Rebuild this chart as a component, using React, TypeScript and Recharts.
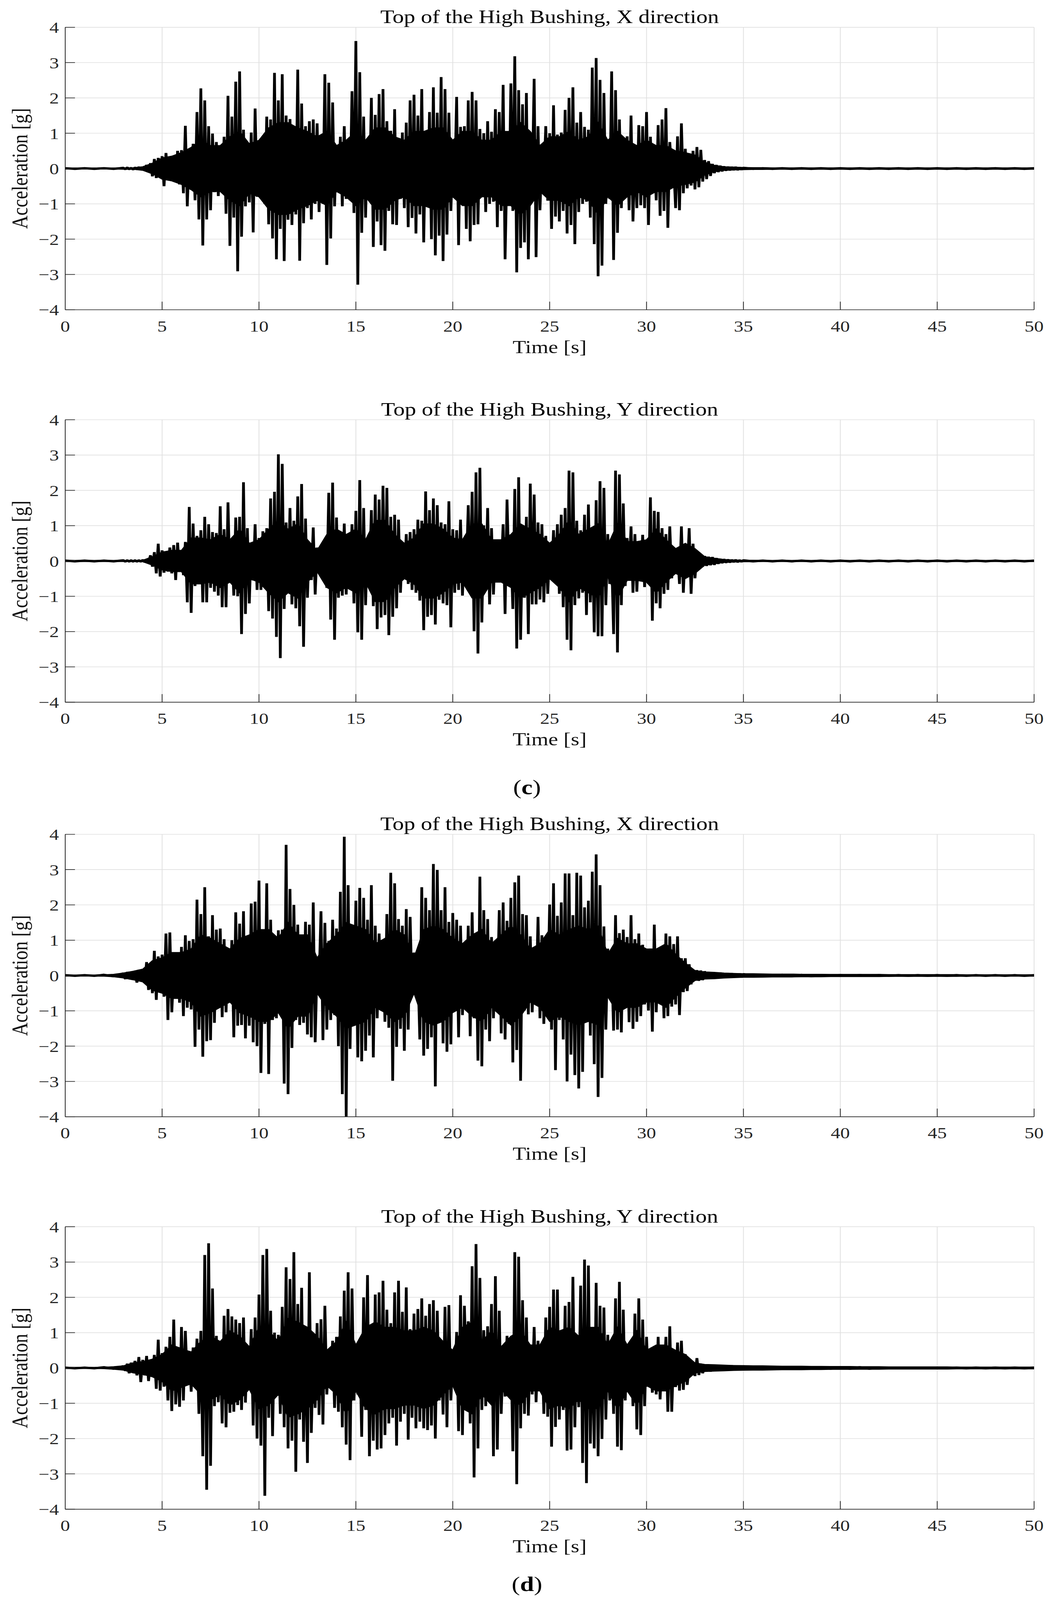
import React, { useEffect, useState } from 'react';
import { ComposedChart, Line, Area, XAxis, YAxis, CartesianGrid } from 'recharts';

// ---------- axes / labels ----------
const X_TICKS = [0, 5, 10, 15, 20, 25, 30, 35, 40, 45, 50];
const Y_TICKS = [-4, -3, -2, -1, 0, 1, 2, 3, 4];
const TITLES = [
  'Top of the High Bushing, X direction',
  'Top of the High Bushing, Y direction',
  'Top of the High Bushing, X direction',
  'Top of the High Bushing, Y direction',
];
const X_LABEL = 'Time [s]';
const Y_LABEL = 'Acceleration [g]';
const PANEL_LETTERS = ['c', 'd'];

// ---------- data (acceleration in g) ----------
// quiet lead-in: t = 0, 0.5, ... 2.5 s
const P1_LEAD = [0.01, -0.01, 0.01, -0.01, 0.01, -0.01];
const P2_LEAD = [0.01, -0.01, 0.01, -0.01, 0.01, -0.01];
const P3_LEAD = [0.01, -0.01, 0.01, -0.01, 0.02, -0.02];
const P4_LEAD = [0.01, -0.01, 0.01, -0.01, 0.02, -0.02];

// strong-motion peaks: one row per second (3 s .. 34 s), samples every 0.1 s
const P1_ROWS = [
  [0.02, -0.02, 0.03, -0.02, 0.02, -0.03, 0.03, -0.02, 0.04, -0.03],
  [0.04, -0.04, 0.1, -0.1, 0.15, -0.22, 0.27, -0.27, 0.3, -0.25],
  [0.35, -0.5, 0.44, -0.28, 0.25, -0.35, 0.33, -0.36, 0.5, -0.45],
  [0.52, -0.7, 1.21, -1.07, 0.53, -0.6, 0.7, -0.9, 1.6, -1.44],
  [2.27, -2.18, 1.93, -1.44, 1.2, -1.18, 0.99, -0.67, 0.75, -0.78],
  [0.6, -0.67, 0.9, -1.28, 2.06, -2.19, 1.47, -1.39, 2.46, -2.91],
  [2.75, -1.93, 1.1, -1.07, 0.7, -0.96, 1.02, -1.81, 1.7, -0.8],
  [0.8, -0.78, 0.9, -1.0, 1.47, -1.58, 1.39, -1.98, 2.71, -2.57],
  [1.93, -1.71, 2.67, -2.62, 1.5, -1.45, 1.4, -1.6, 1.07, -1.3],
  [2.8, -2.61, 1.84, -1.55, 1.2, -1.12, 1.34, -1.44, 1.39, -1.0],
  [1.28, -1.23, 0.91, -1.0, 2.67, -2.73, 2.43, -1.98, 1.87, -1.07],
  [0.59, -0.61, 0.9, -1.07, 1.2, -0.86, 0.78, -0.9, 2.19, -1.26],
  [3.61, -3.29, 2.73, -1.82, 1.47, -1.39, 0.86, -0.8, 2.0, -2.22],
  [1.52, -1.5, 2.11, -2.17, 2.25, -2.33, 1.34, -1.2, 1.07, -1.58],
  [1.68, -1.6, 0.86, -0.86, 1.02, -1.12, 1.3, -1.66, 1.93, -1.4],
  [2.09, -1.84, 1.5, -1.3, 2.25, -2.09, 1.0, -1.04, 1.6, -2.0],
  [2.3, -2.46, 1.58, -1.9, 2.59, -2.62, 2.25, -1.87, 1.58, -1.2],
  [0.48, -0.5, 2.03, -2.17, 1.18, -0.86, 1.2, -1.71, 1.93, -2.06],
  [2.17, -1.6, 1.93, -1.58, 1.12, -0.8, 1.0, -1.23, 1.34, -1.0],
  [1.04, -0.94, 1.68, -1.66, 1.6, -1.2, 2.37, -2.57, 0.2, -1.02],
  [2.41, -1.2, 3.18, -2.94, 2.22, -2.25, 1.82, -2.09, 2.14, -2.57],
  [0.59, -0.48, 2.54, -2.51, 1.2, -1.18, 0.4, -0.3, 1.2, -0.91],
  [1.0, -1.71, 1.79, -1.36, 0.96, -1.5, 1.02, -1.2, 1.66, -1.84],
  [2.0, -1.6, 2.3, -2.14, 1.3, -1.23, 1.6, -1.0, 1.18, -0.94],
  [1.1, -1.39, 2.86, -2.14, 3.13, -3.05, 2.51, -2.75, 2.14, -1.0],
  [0.8, -0.86, 2.75, -2.59, 2.22, -1.82, 1.39, -1.12, 0.53, -0.8],
  [0.91, -1.18, 1.5, -1.5, 0.43, -1.12, 1.23, -1.04, 1.2, -1.12],
  [1.6, -1.6, 0.9, -0.53, 0.45, -0.9, 1.23, -1.34, 1.39, -1.2],
  [1.71, -1.68, 0.75, -0.13, 0.08, -1.12, 0.91, -1.18, 1.28, -0.7],
  [0.56, -0.56, 0.43, -0.48, 0.5, -0.59, 0.61, -0.53, 0.53, -0.37],
  [0.24, -0.3, 0.21, -0.21, 0.13, -0.13, 0.1, -0.1, 0.08, -0.08],
  [0.06, -0.06, 0.05, -0.05, 0.04, -0.04, 0.04, -0.04, 0.03, -0.03],
];
const P2_ROWS = [
  [0.02, -0.02, 0.02, -0.02, 0.02, -0.02, 0.02, -0.02, 0.02, -0.02],
  [0.03, -0.03, 0.04, -0.04, 0.16, -0.16, 0.25, -0.35, 0.49, -0.44],
  [0.3, -0.33, 0.27, -0.3, 0.38, -0.35, 0.45, -0.54, 0.52, -0.3],
  [0.22, -0.4, 0.54, -1.17, 1.53, -1.47, 1.06, -0.71, 0.71, -0.6],
  [0.87, -1.17, 1.25, -1.17, 1.04, -0.76, 0.82, -0.87, 0.79, -0.98],
  [1.55, -1.31, 0.9, -1.31, 1.66, -0.6, 0.33, -0.98, 1.23, -1.0],
  [1.25, -2.07, 2.23, -1.5, 0.93, -1.2, 0.49, -0.55, 1.04, -0.82],
  [0.65, -0.82, 0.84, -0.6, 0.93, -1.42, 1.77, -1.63, 1.96, -2.15],
  [3.02, -2.75, 2.75, -1.36, 1.09, -0.87, 1.5, -1.23, 1.14, -1.34],
  [1.83, -1.85, 2.18, -2.43, 1.2, -1.04, 0.49, -0.54, 0.95, -0.95],
  [0.38, -0.33, 0.27, -0.27, 0.5, -0.76, 1.93, -1.66, 2.22, -2.23],
  [1.23, -1.04, 0.79, -0.98, 1.06, -0.95, 0.6, -0.71, 1.04, -1.2],
  [1.42, -2.02, 2.29, -2.23, 1.5, -1.25, 0.65, -0.49, 1.44, -1.28],
  [1.88, -1.93, 1.74, -1.6, 2.13, -1.53, 2.07, -2.1, 1.25, -1.58],
  [1.31, -1.34, 1.17, -0.9, 0.38, -0.49, 0.76, -0.65, 0.82, -0.82],
  [0.9, -0.9, 1.17, -1.12, 1.14, -1.96, 1.97, -1.58, 1.44, -1.53],
  [1.77, -1.8, 1.58, -1.1, 1.09, -1.2, 1.04, -1.25, 1.69, -1.88],
  [0.9, -0.9, 0.87, -0.82, 1.17, -0.98, 0.38, -0.27, 1.58, -0.9],
  [1.96, -1.99, 2.51, -2.62, 2.64, -1.74, 1.01, -0.76, 1.5, -1.23],
  [0.93, -0.95, 0.44, -0.6, 0.6, -0.27, 1.04, -1.5, 1.74, -0.33],
  [0.44, -1.36, 2.04, -2.48, 2.37, -2.23, 0.6, -1.04, 1.25, -2.07],
  [2.19, -1.23, 1.88, -1.23, 1.09, -1.09, 1.04, -1.17, 0.71, -0.93],
  [0.38, -0.46, 0.87, -0.6, 1.04, -0.93, 1.31, -1.31, 1.5, -2.23],
  [2.56, -2.53, 2.51, -1.25, 1.14, -1.06, 0.87, -0.9, 1.31, -1.53],
  [1.6, -1.17, 0.87, -2.02, 1.72, -2.13, 2.26, -2.13, 2.07, -1.25],
  [0.76, -0.65, 0.11, -2.07, 2.56, -2.59, 2.45, -1.25, 1.63, -0.71],
  [0.65, -0.33, 0.98, -0.9, 0.76, -0.87, 0.44, -0.49, 0.74, -0.74],
  [0.44, -0.65, 1.8, -1.69, 1.42, -1.2, 1.39, -1.34, 0.93, -0.93],
  [0.76, -0.82, 0.98, -0.49, 0.27, -0.27, 0.27, -0.65, 0.98, -0.9],
  [0.38, -0.44, 0.93, -0.93, 0.49, -0.49, 0.22, -0.19, 0.16, -0.16],
  [0.14, -0.14, 0.12, -0.12, 0.11, -0.11, 0.08, -0.08, 0.06, -0.06],
  [0.05, -0.05, 0.04, -0.04, 0.03, -0.03, 0.03, -0.03, 0.02, -0.02],
];
const P3_ROWS = [
  [0.06, -0.1, 0.1, -0.08, 0.08, -0.12, 0.12, -0.2, 0.16, -0.15],
  [0.15, -0.2, 0.38, -0.41, 0.3, -0.5, 0.7, -0.69, 0.54, -0.4],
  [0.59, -0.6, 1.19, -1.26, 1.22, -1.04, 0.2, -0.22, 0.59, -0.77],
  [0.81, -1.15, 1.14, -0.91, 0.98, -0.96, 1.03, -2.02, 2.15, -1.53],
  [1.74, -2.3, 2.5, -1.86, 1.11, -1.83, 1.71, -1.34, 1.3, -0.88],
  [1.33, -1.18, 1.03, -1.04, 0.7, -0.55, 1.0, -1.75, 1.79, -1.42],
  [1.47, -1.4, 1.82, -1.78, 1.03, -1.42, 2.04, -1.89, 2.09, -2.0],
  [2.69, -2.76, 1.03, -1.37, 2.61, -2.79, 1.58, -1.26, 1.03, -1.21],
  [1.28, -1.07, 1.3, -3.06, 3.7, -3.36, 2.45, -2.05, 2.0, -1.26],
  [1.44, -1.4, 0.98, -1.34, 1.52, -1.67, 1.44, -1.75, 2.07, -1.89],
  [0.38, -0.2, 1.82, -1.83, 1.49, -1.53, 0.98, -1.26, 1.58, -1.12],
  [1.33, -2.0, 2.37, -3.36, 3.93, -3.99, 2.56, -2.08, 1.39, -1.37],
  [2.12, -2.32, 2.48, -2.43, 2.2, -2.13, 1.58, -1.7, 2.56, -2.32],
  [1.41, -1.21, 1.19, -0.66, 0.79, -1.31, 1.74, -1.48, 2.91, -2.98],
  [2.61, -2.02, 1.6, -1.51, 1.41, -2.13, 1.88, -1.53, 1.66, -0.55],
  [0.65, -0.6, 0.21, -1.81, 2.5, -2.27, 2.2, -2.08, 1.85, -1.75],
  [3.16, -3.14, 2.99, -1.21, 1.85, -1.92, 2.5, -2.16, 1.52, -1.95],
  [1.77, -0.66, 1.58, -1.75, 1.41, -1.12, 0.65, -0.6, 1.41, -1.72],
  [1.79, -1.21, 1.09, -2.41, 2.8, -2.57, 1.85, -1.53, 1.6, -1.86],
  [1.09, -1.21, 0.7, -0.5, 1.85, -1.64, 2.07, -1.81, 1.55, -1.37],
  [2.2, -2.46, 2.64, -2.11, 2.83, -2.98, 1.74, -0.99, 1.71, -1.1],
  [1.11, -1.04, 0.65, -0.8, 1.66, -1.21, 1.14, -1.37, 0.65, -0.66],
  [2.01, -1.53, 2.61, -2.68, 1.69, -1.26, 2.07, -1.81, 2.89, -3.0],
  [2.89, -2.24, 1.71, -2.82, 2.91, -3.2, 2.83, -2.73, 1.93, -0.93],
  [2.12, -1.7, 2.94, -2.51, 3.43, -3.44, 2.56, -2.9, 1.39, -1.53],
  [0.76, -0.49, 0.43, -1.56, 1.71, -1.53, 1.2, -1.61, 1.3, -0.66],
  [1.09, -1.32, 1.71, -1.51, 1.03, -1.31, 1.19, -1.15, 0.87, -0.82],
  [0.54, -0.99, 0.76, -1.59, 1.44, -1.04, 0.43, -0.66, 0.76, -1.21],
  [1.19, -1.15, 1.11, -0.88, 0.89, -0.82, 1.11, -1.12, 0.49, -0.47],
  [0.49, -0.44, 0.32, -0.25, 0.16, -0.14, 0.15, -0.15, 0.14, -0.13],
  [0.12, -0.1, 0.1, -0.1, 0.09, -0.08, 0.08, -0.08, 0.08, -0.07],
  [0.07, -0.06, 0.06, -0.06, 0.06, -0.05, 0.05, -0.05, 0.05, -0.05],
];
const P4_ROWS = [
  [0.05, -0.08, 0.12, -0.15, 0.15, -0.1, 0.2, -0.21, 0.31, -0.4],
  [0.23, -0.21, 0.34, -0.37, 0.15, -0.15, 0.37, -0.59, 0.8, -0.64],
  [0.42, -0.53, 0.6, -0.92, 0.88, -1.22, 1.37, -1.03, 0.26, -1.1],
  [1.16, -0.92, 1.05, -0.37, 0.48, -0.67, 0.58, -0.53, 0.83, -1.3],
  [1.05, -2.5, 3.2, -3.45, 3.53, -2.77, 2.25, -1.08, 0.91, -0.97],
  [0.67, -1.57, 1.48, -1.68, 1.67, -1.27, 1.46, -1.24, 1.37, -1.05],
  [1.27, -1.19, 1.43, -0.98, 0.61, -0.53, 1.1, -1.63, 1.43, -2.0],
  [2.08, -2.2, 3.2, -3.62, 3.37, -1.41, 1.62, -1.93, 1.0, -0.75],
  [0.94, -1.3, 1.73, -1.68, 2.85, -2.28, 2.52, -2.06, 3.28, -2.94],
  [1.81, -1.46, 2.27, -2.09, 1.18, -2.69, 2.71, -1.84, 0.39, -1.13],
  [1.27, -1.33, 1.38, -1.6, 1.76, -0.75, 0.34, -0.31, 0.77, -1.13],
  [0.88, -1.24, 1.46, -1.68, 2.19, -2.17, 2.71, -2.61, 2.25, -0.92],
  [0.67, -0.75, 0.77, -1.95, 2.0, -1.19, 2.63, -2.5, 1.1, -2.06],
  [2.08, -2.31, 2.14, -2.28, 2.47, -1.9, 1.65, -1.57, 1.27, -1.41],
  [2.14, -2.2, 2.47, -1.52, 1.59, -1.3, 2.28, -2.03, 1.1, -1.41],
  [1.54, -1.71, 1.67, -1.52, 1.97, -1.71, 1.48, -1.76, 1.81, -1.63],
  [1.92, -2.0, 1.62, -0.92, 0.77, -1.32, 1.73, -1.68, 1.78, -0.92],
  [0.39, -0.48, 1.02, -1.79, 2.06, -1.9, 1.76, -0.2, 1.32, -1.57],
  [2.88, -3.1, 3.51, -2.28, 2.55, -1.19, 1.07, -1.08, 1.18, -0.86],
  [1.81, -2.5, 2.6, -2.31, 1.62, -1.3, 0.39, -0.81, 0.91, -0.48],
  [0.77, -2.36, 3.28, -3.29, 3.15, -1.71, 1.92, -1.3, 1.43, -1.35],
  [0.56, -0.75, 1.16, -0.97, 0.77, -0.54, 0.66, -1.3, 1.43, -1.38],
  [1.73, -2.23, 2.22, -1.67, 2.22, -1.46, 0.96, -1.19, 1.76, -2.34],
  [1.87, -2.31, 2.58, -1.68, 0.88, -1.11, 2.33, -2.69, 3.07, -3.26],
  [2.9, -2.14, 0.99, -2.28, 2.41, -2.5, 1.76, -2.01, 1.71, -1.46],
  [0.94, -0.92, 0.66, -1.3, 1.97, -2.23, 2.44, -2.33, 1.65, -0.92],
  [0.58, -0.54, 0.77, -1.08, 1.54, -1.74, 1.97, -1.9, 1.37, -1.08],
  [0.88, -0.43, 0.34, -0.7, 0.56, -0.75, 0.88, -0.89, 0.39, -0.54],
  [0.88, -1.24, 1.18, -1.24, 0.39, -0.54, 0.72, -0.64, 0.77, -0.62],
  [0.39, -0.48, 0.09, -0.15, 0.17, -0.23, 0.28, -0.2, 0.12, -0.15],
  [0.1, -0.1, 0.09, -0.1, 0.09, -0.08, 0.08, -0.08, 0.08, -0.07],
  [0.07, -0.07, 0.07, -0.06, 0.07, -0.06, 0.06, -0.06, 0.06, -0.06],
];
const P_LAST = [0.02, 0.02, 0.04, 0.05]; // value at t = 35 s

// free-vibration tail: t = 35.5, 36 ... 50 s
const P1_TAIL = [-0.01, 0.01, -0.01, 0.01, -0.01, 0.01, -0.01, 0.01, -0.01, 0.01, -0.01, 0.01, -0.01, 0.01, -0.01, 0.01, -0.01, 0.01, -0.01, 0.01, -0.01, 0.01, -0.01, 0.01, -0.01, 0.01, -0.01, 0.01, -0.01, 0.01];
const P2_TAIL = [-0.01, 0.01, -0.01, 0.01, -0.01, 0.01, -0.01, 0.01, -0.01, 0.01, -0.01, 0.01, -0.01, 0.01, -0.01, 0.01, -0.01, 0.01, -0.01, 0.01, -0.01, 0.01, -0.01, 0.01, -0.01, 0.01, -0.01, 0.01, -0.01, 0.01];
const P3_TAIL = [-0.02, 0.02, -0.02, 0.02, -0.02, 0.02, -0.02, 0.01, -0.01, 0.01, -0.01, 0.01, -0.01, 0.01, -0.01, 0.01, -0.01, 0.01, -0.01, 0.01, -0.01, 0.01, -0.01, 0.01, -0.01, 0.01, -0.01, 0.01, -0.01, 0.01];
const P4_TAIL = [-0.03, 0.03, -0.03, 0.02, -0.02, 0.02, -0.02, 0.02, -0.02, 0.02, -0.02, 0.02, -0.02, 0.01, -0.01, 0.01, -0.01, 0.01, -0.01, 0.01, -0.01, 0.01, -0.01, 0.01, -0.01, 0.01, -0.01, 0.01, -0.01, 0.01];

// dense-oscillation band (half width, g): one row per 5 s, samples every 0.5 s (0 .. 49.5 s)
const P1_CORE = [
  [0.015, 0.015, 0.015, 0.015, 0.015, 0.015, 0.02, 0.02, 0.05, 0.15],
  [0.3, 0.35, 0.45, 0.6, 0.8, 0.65, 0.65, 0.9, 1.05, 0.7],
  [0.8, 1.15, 1.3, 1.3, 1.15, 1.05, 0.9, 1.05, 0.65, 0.8],
  [1.05, 0.8, 1.15, 1.15, 0.9, 0.8, 1.05, 1.05, 1.15, 1.15],
  [0.8, 1.05, 1.05, 0.8, 0.8, 1.05, 1.05, 1.3, 1.05, 0.65],
  [0.9, 0.9, 1.05, 0.8, 0.9, 1.3, 0.8, 1.05, 0.8, 0.65],
  [0.8, 0.65, 0.65, 0.5, 0.45, 0.38, 0.18, 0.09, 0.05, 0.04],
  [0.03, 0.025, 0.025, 0.02, 0.02, 0.02, 0.02, 0.02, 0.02, 0.02],
  [0.02, 0.02, 0.02, 0.02, 0.02, 0.02, 0.02, 0.02, 0.02, 0.02],
  [0.02, 0.02, 0.02, 0.02, 0.02, 0.02, 0.02, 0.02, 0.02, 0.02],
];
const P2_CORE = [
  [0.015, 0.015, 0.015, 0.015, 0.015, 0.015, 0.015, 0.015, 0.02, 0.12],
  [0.25, 0.3, 0.3, 0.65, 0.65, 0.6, 0.75, 0.6, 0.9, 0.5],
  [0.6, 0.9, 1.15, 0.9, 1.05, 0.6, 0.3, 0.75, 0.9, 0.75],
  [0.9, 0.6, 1.15, 1.15, 0.75, 0.5, 0.65, 1.05, 1.05, 0.9],
  [0.65, 0.6, 1.05, 1.05, 0.6, 0.6, 0.75, 1.05, 0.9, 0.75],
  [0.5, 0.75, 1.15, 0.75, 0.9, 1.05, 0.45, 1.05, 0.55, 0.55],
  [0.6, 0.9, 0.6, 0.35, 0.5, 0.35, 0.12, 0.08, 0.04, 0.03],
  [0.02, 0.02, 0.015, 0.015, 0.015, 0.015, 0.015, 0.015, 0.015, 0.015],
  [0.015, 0.015, 0.015, 0.015, 0.015, 0.015, 0.015, 0.015, 0.015, 0.015],
  [0.015, 0.015, 0.015, 0.015, 0.015, 0.015, 0.015, 0.015, 0.015, 0.015],
];
const P3_CORE = [
  [0.015, 0.015, 0.015, 0.015, 0.02, 0.035, 0.07, 0.12, 0.18, 0.42],
  [0.5, 0.65, 0.65, 0.75, 1.15, 1.05, 0.9, 0.75, 1.05, 1.15],
  [1.3, 1.3, 1.05, 1.5, 1.15, 1.15, 0.5, 0.9, 1.15, 1.5],
  [1.4, 1.3, 0.9, 1.05, 1.3, 1.15, 0.5, 1.3, 1.4, 1.3],
  [1.05, 0.9, 1.15, 1.3, 0.9, 1.15, 1.4, 1.15, 0.75, 0.9],
  [1.3, 1.15, 1.3, 1.4, 1.3, 1.4, 0.6, 1.05, 0.9, 0.9],
  [0.75, 0.75, 0.9, 0.6, 0.35, 0.14, 0.1, 0.09, 0.07, 0.06],
  [0.05, 0.05, 0.045, 0.04, 0.04, 0.04, 0.035, 0.035, 0.035, 0.03],
  [0.03, 0.03, 0.03, 0.03, 0.03, 0.025, 0.025, 0.025, 0.025, 0.025],
  [0.025, 0.025, 0.025, 0.02, 0.02, 0.02, 0.02, 0.02, 0.02, 0.02],
];
const P4_CORE = [
  [0.015, 0.015, 0.015, 0.015, 0.02, 0.035, 0.06, 0.14, 0.18, 0.25],
  [0.38, 0.65, 0.55, 0.45, 0.75, 0.9, 0.75, 1.05, 0.9, 0.6],
  [1.15, 1.05, 0.75, 1.4, 1.3, 1.15, 0.9, 0.5, 0.75, 1.3],
  [0.65, 1.15, 1.3, 1.15, 1.15, 1.05, 1.05, 1.15, 1.05, 0.75],
  [0.5, 1.15, 1.3, 0.75, 1.05, 0.6, 0.9, 1.05, 0.65, 0.65],
  [1.15, 1.05, 1.15, 0.9, 1.15, 1.15, 0.65, 1.15, 0.65, 1.05],
  [0.5, 0.65, 0.65, 0.5, 0.38, 0.14, 0.1, 0.09, 0.08, 0.07],
  [0.065, 0.06, 0.06, 0.055, 0.05, 0.05, 0.05, 0.045, 0.045, 0.04],
  [0.04, 0.04, 0.035, 0.035, 0.035, 0.03, 0.03, 0.03, 0.03, 0.03],
  [0.03, 0.03, 0.025, 0.025, 0.025, 0.025, 0.025, 0.025, 0.025, 0.025],
];
const CORE_LAST = [0.02, 0.015, 0.02, 0.025]; // band at t = 50 s

type Pt = { t: number; a?: number; band?: [number, number] };

function buildPanel(
  lead: number[], rows: number[][], last: number, tail: number[],
  core: number[][], coreLast: number
): Pt[] {
  const map = new Map<number, Pt>();
  const put = (t: number, key: 'a' | 'band', v: any) => {
    const k = Math.round(t * 100) / 100;
    const o = map.get(k) || { t: k };
    (o as any)[key] = v;
    map.set(k, o);
  };
  lead.forEach((a, i) => put(i * 0.5, 'a', a));
  rows.forEach((row, r) => row.forEach((a, j) => put(3 + r + j * 0.1, 'a', a)));
  put(35, 'a', last);
  tail.forEach((a, i) => put(35.5 + i * 0.5, 'a', a));
  core.forEach((row, r) => row.forEach((c, j) => put(r * 5 + j * 0.5, 'band', [-c, c])));
  put(50, 'band', [-coreLast, coreLast]);
  return Array.from(map.values()).sort((p, q) => p.t - q.t);
}

const SERIES = [
  buildPanel(P1_LEAD, P1_ROWS, P_LAST[0], P1_TAIL, P1_CORE, CORE_LAST[0]),
  buildPanel(P2_LEAD, P2_ROWS, P_LAST[1], P2_TAIL, P2_CORE, CORE_LAST[1]),
  buildPanel(P3_LEAD, P3_ROWS, P_LAST[2], P3_TAIL, P3_CORE, CORE_LAST[2]),
  buildPanel(P4_LEAD, P4_ROWS, P_LAST[3], P4_TAIL, P4_CORE, CORE_LAST[3]),
];

// ---------- layout ----------
const PAGE_W = 2699;
const PAGE_H = 4925;
const PANEL_TOPS = [84, 1292, 2568, 3776];
const PLOT_L = 167;
const PLOT_R = 2648;
const PLOT_H = 869.5;
const CHART_H = 1100;
const TOP_PAD = 100;
const FONT = "'Liberation Serif', 'Times New Roman', Times, serif";
const AXIS_COLOR = '#262626';

const axisLineStyle = { stroke: AXIS_COLOR, strokeWidth: 2 };
const fmtY = (v: number) => (v < 0 ? '\u2212' + Math.abs(v) : String(v));

function Panel({ data, top }: { data: Pt[]; top: number }) {
  const yAxisW = 80;
  const xAxisH = 80;
  const bottomMargin = CHART_H - TOP_PAD - PLOT_H - xAxisH;
  return (
    <div style={{ position: 'absolute', left: 0, top: top - TOP_PAD, width: PAGE_W, height: CHART_H }}>
      <ComposedChart
        width={PAGE_W}
        height={CHART_H}
        data={data}
        margin={{ top: TOP_PAD, right: PAGE_W - PLOT_R, bottom: bottomMargin, left: PLOT_L - yAxisW }}
      >
        <CartesianGrid stroke="#e0e0e0" strokeWidth={2} />
        <XAxis
          dataKey="t"
          type="number"
          domain={[0, 50]}
          ticks={X_TICKS}
          interval={0}
          height={xAxisH}
          allowDataOverflow
          tickSize={-25}
          tickMargin={57}
          axisLine={axisLineStyle}
          tickLine={axisLineStyle}
          tick={{ fontSize: 49, fill: AXIS_COLOR, fontFamily: FONT }}
        />
        <XAxis
          xAxisId="top"
          orientation="top"
          dataKey="t"
          type="number"
          domain={[0, 50]}
          ticks={X_TICKS}
          interval={0}
          height={0}
          allowDataOverflow
          tickSize={-25}
          axisLine={axisLineStyle}
          tickLine={axisLineStyle}
          tick={false}
        />
        <YAxis
          type="number"
          domain={[-4, 4]}
          ticks={Y_TICKS}
          interval={0}
          width={yAxisW}
          allowDataOverflow
          tickSize={-25}
          tickMargin={41}
          axisLine={axisLineStyle}
          tickLine={axisLineStyle}
          tickFormatter={fmtY}
          tick={{ fontSize: 49, fill: AXIS_COLOR, fontFamily: FONT }}
        />
        <YAxis
          yAxisId="right"
          orientation="right"
          type="number"
          domain={[-4, 4]}
          ticks={Y_TICKS}
          interval={0}
          width={0}
          allowDataOverflow
          tickSize={-25}
          axisLine={axisLineStyle}
          tickLine={axisLineStyle}
          tick={false}
        />
        <Area
          type="linear"
          dataKey="band"
          stroke="#000000"
          strokeWidth={3}
          fill="#000000"
          fillOpacity={1}
          connectNulls
          dot={false}
          activeDot={false}
          isAnimationActive={false}
        />
        <Line
          type="linear"
          dataKey="a"
          stroke="#000000"
          strokeWidth={7}
          strokeLinejoin="bevel"
          connectNulls
          dot={false}
          activeDot={false}
          isAnimationActive={false}
        />
      </ComposedChart>
    </div>
  );
}

function useFitScale(): number {
  const read = () => {
    if (typeof window === 'undefined') return 1;
    const h = window.innerHeight;
    if (!h || h < 1000) return 1;
    return Math.min(1, h / PAGE_H);
  };
  const [k, setK] = useState(read);
  useEffect(() => {
    const on = () => setK(read());
    window.addEventListener('resize', on);
    return () => window.removeEventListener('resize', on);
  }, []);
  return k;
}

export default function App() {
  const cx = (PLOT_L + PLOT_R) / 2;
  const k = useFitScale();
  return (
    <div style={{ position: 'relative', width: PAGE_W, height: PAGE_H * k, margin: -8, background: '#ffffff', overflow: 'hidden' }}>
      <div
        style={{
          position: 'absolute',
          left: 0,
          top: 0,
          width: PAGE_W,
          height: PAGE_H,
          transform: `scale(1, ${k})`,
          transformOrigin: '0 0',
          background: '#ffffff',
        }}
      >
        {SERIES.map((data, i) => (
          <Panel key={i} data={data} top={PANEL_TOPS[i]} />
        ))}
        <svg
          width={PAGE_W}
          height={PAGE_H}
          style={{ position: 'absolute', left: 0, top: 0, pointerEvents: 'none' }}
          fontFamily={FONT}
        >
          {PANEL_TOPS.map((T, i) => (
            <g key={i}>
              <text x={cx} y={T - 13} textAnchor="middle" fontSize={58} fill="#000">
                {TITLES[i]}
              </text>
              <text x={cx} y={T + PLOT_H + 133} textAnchor="middle" fontSize={56} fill="#111">
                {X_LABEL}
              </text>
              <text
                x={70}
                y={T + PLOT_H / 2}
                textAnchor="middle"
                fontSize={57}
                fill="#111"
                transform={`rotate(-90 70 ${T + PLOT_H / 2})`}
              >
                {Y_LABEL}
              </text>
            </g>
          ))}
          <text x={PAGE_W / 2} y={2445} textAnchor="middle" fontSize={64} fill="#000">
            (<tspan fontWeight="bold">{PANEL_LETTERS[0]}</tspan>)
          </text>
          <text x={PAGE_W / 2} y={4897} textAnchor="middle" fontSize={64} fill="#000">
            (<tspan fontWeight="bold">{PANEL_LETTERS[1]}</tspan>)
          </text>
        </svg>
      </div>
    </div>
  );
}
